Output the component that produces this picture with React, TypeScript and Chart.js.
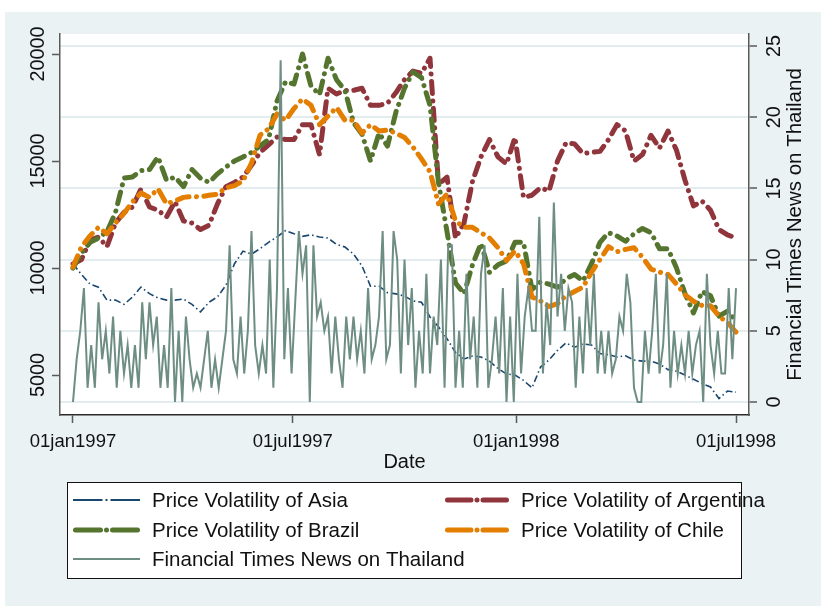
import React, { useEffect, useRef } from 'react';
import { Chart, registerables } from 'chart.js';

Chart.register(...registerables);

// ---- Data (days counted from 01jan1997) ----
// weekly observations of the price-volatility series
const volDays: number[] = Array.from({ length: 79 }, (_, i) => i * 7);
// news counts, every third day
const newsDays: number[] = Array.from({ length: 183 }, (_, i) => i * 3);

const asiaVol: number[] = [
  10190, 9700, 9250, 9100, 8500, 8500, 8300, 8640, 9110, 8800,
  8600, 8500, 8500, 8550, 8300, 7950, 8400, 8650, 9200, 10200,
  10790, 10650, 10900, 11200, 11450, 11750, 11600, 11480, 11550, 11450,
  11400, 11100, 10980, 10650, 10100, 9150, 9150, 8850, 8790, 8690,
  8460, 8400, 7710, 7250, 6700, 6050, 5750, 5890, 5840, 5650,
  5300, 5050, 5000, 4750, 4400, 5370, 5700, 6150, 6500, 6300,
  6450, 6400, 6000, 5950, 5840, 5900, 5700, 5650, 5650, 5510,
  5250, 5180, 5000, 4800, 4600, 4440, 3900, 4250, 4200,
];

const argentinaVol: number[] = [
  10190, 10400, 11300, 11450, 11000, 12100, 12600, 12850, 13700, 12850,
  12700, 12380, 13100, 12200, 12100, 11800, 12000, 13000, 13800, 14000,
  14250, 14800, 15400, 15750, 16120, 16000, 16000, 16700, 16700, 15300,
  18400, 18130, 18300, 18300, 18400, 17600, 17600, 17700, 18200, 18800,
  19200, 19100, 19800, 13900, 14250, 11400, 12100, 14050, 15200, 16000,
  15190, 14860, 16100, 13300, 13400, 13750, 13600, 15000, 15850, 15800,
  15350, 15400, 15450, 16000, 16700, 16400, 15000, 15300, 16200, 15600,
  16400, 15500, 14100, 12900, 13130, 12700, 11800, 11550, 11400,
];

const brazilVol: number[] = [
  10000, 10700, 11200, 11400, 11700, 12600, 14200, 14250, 14550, 14600,
  15190, 14100, 14250, 13800, 14600, 14200, 14000, 14400, 14720, 15000,
  15190, 15400, 15700, 16000, 17800, 18700, 18600, 20000, 18500, 18100,
  19800, 18800, 18300, 16800, 16250, 15000, 16300, 15700, 17300, 18400,
  19160, 18900, 17600, 14000, 11700, 9300, 8800, 10150, 11150, 9800,
  10150, 10330, 11200, 11200, 9000, 9350, 9250, 9100, 9500, 9700,
  9390, 10200, 11200, 11650, 11500, 11250, 11600, 11850, 11650, 10900,
  10900, 10000, 8800, 7900, 8900, 8700, 7750, 7990, 7500,
];

const chileVol: number[] = [
  10050, 11000, 11500, 11900, 11600, 12100, 12550, 13100, 13500, 13300,
  13700, 13000, 13130, 13300, 13350, 13320, 13400, 13450, 13750, 13850,
  14070, 14900, 16200, 16500, 17200, 16900, 17450, 17900, 17600, 16700,
  17100, 17500, 16900, 16900, 16300, 16700, 16400, 16450, 16300, 16100,
  15650, 15100, 14500, 13000, 13460, 12200, 11900, 11900, 11650, 11400,
  10950, 10350, 10800, 10200, 8650, 8460, 8200, 8330, 8700, 8900,
  9110, 9800, 10400, 11000, 10760, 10870, 10950, 10500, 9950, 9810,
  9700, 9250, 8750, 8450, 8250, 8240, 7750, 7450, 7000,
];

const newsThailand: number[] = [
  0, 3, 5, 8, 1, 4, 1, 7, 3, 5, 2, 6, 1, 5, 2, 4, 1, 4, 1, 7,
  3, 7, 4, 6, 1, 4, 1, 8, 0, 5, 0, 6, 3, 1, 2, 1, 3, 5, 1, 3,
  1, 3, 5, 11, 3,
  2, 6, 2, 5, 12, 4, 2, 4, 2, 10, 1, 8, 24, 3, 8, 2, 7, 12, 9, 11,
  0, 11, 6, 7, 5, 6, 2, 6, 3, 1, 6, 3, 6, 3, 5, 2, 8, 3, 4, 6,
  12, 3, 4, 12, 10, 2, 10,
  4, 8, 1, 5, 2, 9, 2, 6, 4, 10, 1, 11, 11, 1, 5, 1, 9, 3, 6, 1,
  9, 11, 1, 3, 6, 2, 8, 0, 6, 0, 9, 2, 6, 8, 5, 5, 13, 2, 7, 4,
  14, 6, 9, 5, 8,
  7, 1, 6, 2, 8, 4, 9, 2, 5, 2, 5, 2, 3, 6, 5, 9, 7, 1, 0, 0,
  5, 2, 5, 9, 2, 4, 9, 1, 5, 2, 4, 2, 5, 2, 4, 5, 0, 9, 4, 2,
  5, 2, 2, 8, 3, 8,
];

const xTickDays: number[] = [0, 181, 365, 546];
const xTickLabels: string[] = ['01jan1997', '01jul1997', '01jan1998', '01jul1998'];
const yLeftTicks: number[] = [5000, 10000, 15000, 20000];
const yRightTicks: number[] = [0, 5, 10, 15, 20, 25];

const seriesLabels = {
  asia: 'Price Volatility of Asia',
  argentina: 'Price Volatility of Argentina',
  brazil: 'Price Volatility of Brazil',
  chile: 'Price Volatility of Chile',
  news: 'Financial Times News on Thailand',
};

// ---- Styles ----
const NAVY = '#1a476f';
const MAROON = '#90353b';
const GREEN = '#55752f';
const ORANGE = '#e37e00';
const TEAL = '#6e8e84';
const BG = '#eaf2f3';
const GRID = '#e3ecef';
const AXIS = '#5a5a5a';
const FONT = '"Liberation Sans", Arial, Helvetica, sans-serif';
const THICK_DASH = [12, 7.5, 0.01, 7.5];
const THIN_DASH = [7, 3, 1.5, 3];

const toPoints = (days: number[], vals: number[]) => days.map((d, i) => ({ x: d, y: vals[i] }));

const framePlugin = {
  id: 'stataFrame',
  beforeDraw(chart: any) {
    const { ctx, chartArea: a } = chart;
    ctx.save();
    ctx.fillStyle = '#ffffff';
    ctx.fillRect(0, 0, chart.width, chart.height);
    ctx.fillStyle = BG;
    ctx.fillRect(5, 12, 816, 594);
    ctx.fillStyle = '#ffffff';
    ctx.fillRect(a.left, a.top, a.right - a.left, a.bottom - a.top);
    ctx.restore();
  },
  afterDraw(chart: any) {
    const { ctx, chartArea: a } = chart;
    const sx = chart.scales.x;
    const sl = chart.scales.yL;
    const sr = chart.scales.yR;
    ctx.save();
    ctx.fillStyle = '#111111';

    // x tick labels
    ctx.font = `18.5px ${FONT}`;
    ctx.textAlign = 'center';
    ctx.textBaseline = 'alphabetic';
    xTickDays.forEach((d, i) => {
      ctx.fillText(xTickLabels[i], sx.getPixelForValue(d), 447);
    });
    // x title
    ctx.font = `20px ${FONT}`;
    ctx.fillText('Date', (a.left + a.right) / 2, 468);

    // left tick labels (rotated)
    ctx.font = `19.8px ${FONT}`;
    yLeftTicks.forEach((v) => {
      ctx.save();
      ctx.translate(43.5, sl.getPixelForValue(v));
      ctx.rotate(-Math.PI / 2);
      ctx.textAlign = 'center';
      ctx.fillText(String(v), 0, 0);
      ctx.restore();
    });
    // right tick labels (rotated)
    yRightTicks.forEach((v) => {
      ctx.save();
      ctx.translate(780, sr.getPixelForValue(v));
      ctx.rotate(-Math.PI / 2);
      ctx.textAlign = 'center';
      ctx.fillText(String(v), 0, 0);
      ctx.restore();
    });
    // right axis title
    ctx.save();
    ctx.font = `20.5px ${FONT}`;
    ctx.translate(801, (a.top + a.bottom) / 2);
    ctx.rotate(-Math.PI / 2);
    ctx.textAlign = 'center';
    ctx.fillText(seriesLabels.news, 0, 0);
    ctx.restore();

    // legend box
    ctx.fillStyle = '#ffffff';
    ctx.fillRect(67, 482, 674, 96);
    ctx.strokeStyle = '#111111';
    ctx.lineWidth = 1;
    ctx.strokeRect(67.5, 482.5, 674, 96);

    const drawDashDot = (x1: number, x2: number, y: number, color: string, w: number, cap: CanvasLineCap) => {
      const mid = (x1 + x2) / 2;
      const seg = (x2 - x1) / 2 - (w > 2 ? 6 : 4);
      ctx.strokeStyle = color;
      ctx.lineWidth = w;
      ctx.lineCap = cap;
      ctx.setLineDash([]);
      ctx.beginPath();
      ctx.moveTo(x1 + (cap === 'round' ? w / 2 : 0), y);
      ctx.lineTo(x1 + seg, y);
      ctx.moveTo(x2 - seg, y);
      ctx.lineTo(x2 - (cap === 'round' ? w / 2 : 0), y);
      ctx.stroke();
      ctx.beginPath();
      if (cap === 'round') {
        ctx.moveTo(mid - 0.01, y);
        ctx.lineTo(mid + 0.01, y);
      } else {
        ctx.moveTo(mid - 1, y);
        ctx.lineTo(mid + 1, y);
      }
      ctx.stroke();
    };

    const rows = [500, 530, 559];
    const items = [
      { label: seriesLabels.asia, color: NAVY, w: 2, cap: 'butt', kind: 'dd', col: 0, row: 0 },
      { label: seriesLabels.argentina, color: MAROON, w: 5, cap: 'round', kind: 'dd', col: 1, row: 0 },
      { label: seriesLabels.brazil, color: GREEN, w: 5, cap: 'round', kind: 'dd', col: 0, row: 1 },
      { label: seriesLabels.chile, color: ORANGE, w: 5, cap: 'round', kind: 'dd', col: 1, row: 1 },
      { label: seriesLabels.news, color: TEAL, w: 2, cap: 'butt', kind: 'solid', col: 0, row: 2 },
    ];
    const cols = [
      { x1: 73, x2: 140, tx: 152 },
      { x1: 445, x2: 509, tx: 521 },
    ];
    ctx.font = `20.5px ${FONT}`;
    ctx.textAlign = 'left';
    ctx.textBaseline = 'middle';
    items.forEach((it) => {
      const c = cols[it.col];
      const y = rows[it.row];
      if (it.kind === 'solid') {
        ctx.strokeStyle = it.color;
        ctx.lineWidth = it.w;
        ctx.lineCap = 'butt';
        ctx.setLineDash([]);
        ctx.beginPath();
        ctx.moveTo(c.x1, y);
        ctx.lineTo(c.x2, y);
        ctx.stroke();
      } else {
        drawDashDot(c.x1, c.x2, y, it.color, it.w, it.cap as CanvasLineCap);
      }
      ctx.fillStyle = '#111111';
      ctx.fillText(it.label, c.tx, y + 1);
    });
    ctx.restore();
  },
};

export default function App() {
  const canvasRef = useRef<HTMLCanvasElement | null>(null);

  useEffect(() => {
    const canvas = canvasRef.current;
    if (!canvas) return;
    const thick = (label: string, vals: number[], color: string, order: number) => ({
      label,
      data: toPoints(volDays, vals),
      yAxisID: 'yL',
      borderColor: color,
      backgroundColor: color,
      borderWidth: 5,
      borderDash: THICK_DASH,
      borderCapStyle: 'round',
      borderJoinStyle: 'round',
      pointRadius: 0,
      tension: 0,
      fill: false,
      order,
    });
    const chart = new Chart(canvas, {
      type: 'line',
      data: {
        datasets: [
          {
            label: seriesLabels.news,
            data: toPoints(newsDays, newsThailand),
            yAxisID: 'yR',
            borderColor: TEAL,
            backgroundColor: TEAL,
            borderWidth: 2,
            pointRadius: 0,
            tension: 0,
            fill: false,
            order: 0,
          },
          thick(seriesLabels.chile, chileVol, ORANGE, 1),
          thick(seriesLabels.brazil, brazilVol, GREEN, 2),
          thick(seriesLabels.argentina, argentinaVol, MAROON, 3),
          {
            label: seriesLabels.asia,
            data: toPoints(volDays, asiaVol),
            yAxisID: 'yL',
            borderColor: NAVY,
            backgroundColor: NAVY,
            borderWidth: 1.6,
            borderDash: THIN_DASH,
            pointRadius: 0,
            tension: 0,
            fill: false,
            order: 4,
          },
        ] as any,
      },
      options: {
        responsive: false,
        animation: false,
        devicePixelRatio: 1,
        events: [],
        layout: { padding: { top: 34, left: 0, right: 0, bottom: 0 } },
        plugins: {
          legend: { display: false },
          tooltip: { enabled: false },
          title: { display: false },
        },
        scales: {
          x: {
            type: 'linear',
            position: 'bottom',
            min: -10.7,
            max: 556.7,
            afterBuildTicks: (s: any) => {
              s.ticks = xTickDays.map((v) => ({ value: v }));
            },
            afterFit: (s: any) => {
              s.height = 198;
            },
            ticks: { display: false },
            grid: {
              drawOnChartArea: false,
              drawTicks: true,
              tickLength: 8,
              tickColor: AXIS,
              tickWidth: 1.5,
            },
            border: { display: true, color: '#2a2a2a', width: 1.5 },
          },
          yL: {
            type: 'linear',
            position: 'left',
            min: 3131,
            max: 20935,
            afterBuildTicks: (s: any) => {
              s.ticks = yLeftTicks.map((v) => ({ value: v }));
            },
            afterFit: (s: any) => {
              s.width = 60;
            },
            ticks: { display: false },
            grid: {
              drawOnChartArea: false,
              drawTicks: true,
              tickLength: 8,
              tickColor: AXIS,
              tickWidth: 1.5,
            },
            border: { display: true, color: AXIS, width: 1.5 },
          },
          yR: {
            type: 'linear',
            position: 'right',
            min: -0.91,
            max: 25.84,
            afterBuildTicks: (s: any) => {
              s.ticks = yRightTicks.map((v) => ({ value: v }));
            },
            afterFit: (s: any) => {
              s.width = 76;
            },
            ticks: { display: false },
            grid: {
              drawOnChartArea: true,
              color: GRID,
              lineWidth: 2,
              drawTicks: true,
              tickLength: 8,
              tickColor: AXIS,
              tickWidth: 1.5,
            },
            border: { display: true, color: AXIS, width: 1.5 },
          },
        },
      } as any,
      plugins: [framePlugin],
    });
    return () => chart.destroy();
  }, []);

  return (
    <div style={{ position: 'absolute', left: 0, top: 0, width: 825, height: 613 }}>
      <canvas ref={canvasRef} width={825} height={613} style={{ width: 825, height: 613, display: 'block' }} />
    </div>
  );
}
